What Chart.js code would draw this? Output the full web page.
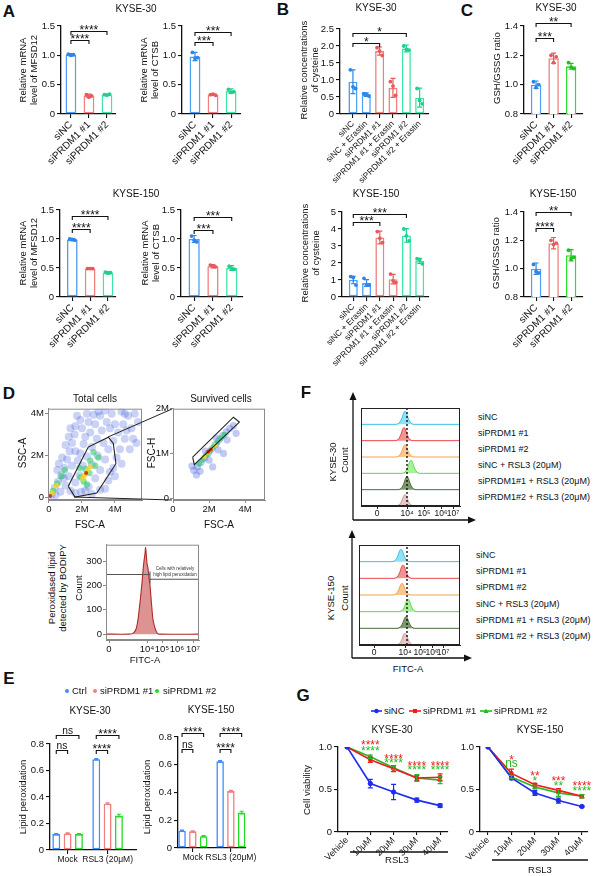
<!DOCTYPE html>
<html>
<head>
<meta charset="utf-8">
<script src="https://cdn.jsdelivr.net/npm/chart.js@4.4.1/dist/chart.umd.min.js"></script>
<style>
  body { margin: 0; background: #fff; }
  #fig { position: relative; width: 600px; height: 876px; overflow: hidden; background: #fff; font-family: 'Liberation Sans', Arial, sans-serif; color: #111; }
  .t { position: absolute; white-space: nowrap; line-height: 1.15; text-align: center; }
  canvas { position: absolute; }
  svg { position: absolute; left: 0; top: 0; }
</style>
</head>
<body>
<div id="fig"></div>
<script>
// ---------------- data ----------------
// A: relative mRNA
const siGroups = ['siNC', 'siPRDM1 #1', 'siPRDM1 #2'];
const mfsd12K30 = [1.01, 0.31, 0.33];
const mfsd12K30Sd = [0.02, 0.03, 0.01];
const mfsd12K30Pts = [[1.02, 1.0, 1.01], [0.33, 0.29, 0.31], [0.33, 0.32, 0.34]];
const ctsbK30 = [0.98, 0.33, 0.39];
const ctsbK30Sd = [0.07, 0.01, 0.04];
const ctsbK30Pts = [[1.05, 0.95, 0.96], [0.33, 0.34, 0.32], [0.42, 0.37, 0.38]];
const mfsd12K150 = [0.99, 0.49, 0.42];
const mfsd12K150Sd = [0.02, 0.01, 0.02];
const mfsd12K150Pts = [[1.0, 0.99, 0.98], [0.49, 0.49, 0.49], [0.43, 0.41, 0.42]];
const ctsbK150 = [1.0, 0.53, 0.5];
const ctsbK150Sd = [0.06, 0.03, 0.04];
const ctsbK150Pts = [[1.05, 0.98, 0.95], [0.55, 0.53, 0.52], [0.53, 0.49, 0.48]];
// brackets: [group a, group b, y, label]
const sigMfsd12K30 = [[0, 1, 1.26, '****'], [0, 2, 1.41, '****']];
const sigCtsbK30 = [[0, 1, 1.23, '***'], [0, 2, 1.40, '***']];
const sigMfsd12K150 = [[0, 1, 1.17, '****'], [0, 2, 1.40, '****']];
const sigCtsbK150 = [[0, 1, 1.16, '***'], [0, 2, 1.38, '***']];

// B: cysteine
const cysGroups = ['siNC', 'siNC + Erastin', 'siPRDM1 #1', 'siPRDM1 #1 + Erastin', 'siPRDM1 #2', 'siPRDM1 #2 + Erastin'];
const cysK30 = [0.95, 0.57, 1.85, 0.77, 1.93, 0.48];
const cysK30Sd = [0.35, 0.05, 0.12, 0.28, 0.1, 0.28];
const cysK30Pts = [[1.3, 0.8, 0.75], [0.6, 0.58, 0.53], [1.95, 1.85, 1.72], [0.95, 0.82, 0.55], [2.0, 1.9, 1.88], [0.75, 0.4, 0.3]];
const cysK150 = [1.0, 0.82, 3.5, 1.05, 3.62, 2.13];
const cysK150Sd = [0.22, 0.2, 0.38, 0.28, 0.4, 0.15];
const cysK150Pts = [[1.2, 1.15, 0.7], [1.1, 0.7, 0.7], [3.85, 3.45, 3.2], [1.35, 0.95, 0.85], [4.0, 3.6, 3.3], [2.25, 2.2, 1.95]];
const sigCysK30 = [[0, 2, 2.09, '*'], [0, 4, 2.38, '*']];
const sigCysK150 = [[0, 2, 4.41, '***'], [0, 4, 4.88, '***']];

// C: GSH/GSSG
const gshK30 = [1.0, 1.18, 1.125];
const gshK30Sd = [0.025, 0.035, 0.02];
const gshK30Pts = [[1.02, 0.98, 1.0], [1.2, 1.15, 1.19], [1.15, 1.12, 1.11]];
const gshK150 = [1.0, 1.18, 1.095];
const gshK150Sd = [0.04, 0.04, 0.04];
const gshK150Pts = [[1.03, 0.98, 0.97], [1.2, 1.17, 1.18], [1.13, 1.07, 1.08]];
const sigGshK30 = [[0, 1, 1.32, '***'], [0, 2, 1.42, '**']];
const sigGshK150 = [[0, 1, 1.29, '****'], [0, 2, 1.40, '**']];

// D: flow gating (values in millions)
const totalBlue = [[0.15,0.1],[0.35,0.45],[0.55,0.75],[0.75,1.05],[0.95,1.4],[1.1,1.8],[1.25,2.2],[1.4,2.6],[1.55,3.0],[1.6,3.4],[1.9,3.7],[2.3,4.0],[0.7,0.25],[1.0,0.55],[1.3,0.3],[1.2,1.0],[0.8,1.9],[1.6,0.7],[1.85,1.05],[2.05,1.5],[2.3,1.95],[2.6,2.4],[2.9,2.8],[3.2,3.2],[3.5,3.6],[3.8,4.0],[1.75,1.75],[2.1,2.55],[2.5,3.1],[2.8,3.5],[3.1,3.9],[2.4,0.5],[2.8,0.9],[3.1,1.3],[3.4,1.8],[3.6,2.3],[3.9,2.7],[4.2,3.1],[4.5,3.5],[4.8,3.9],[4.3,2.3],[4.6,2.8],[5.0,3.3],[5.2,4.0],[3.1,0.35],[3.6,0.8],[3.9,1.4],[4.1,1.9],[1.95,0.25],[2.6,1.55],[2.95,2.0],[4.4,4.1],[3.4,4.15],[2.7,3.95],[5.3,2.6],
  [0.5,1.3],[0.6,1.6],[1.0,2.5],[1.2,2.9],[1.3,3.3],[1.7,3.9],[2.0,3.3],[2.4,3.6],[3.0,4.1],[3.7,3.3],[4.0,3.5],[4.7,3.2],[5.1,2.8],[4.9,2.3],[4.4,1.6],[4.0,1.0],[3.4,0.4],[2.6,0.15],[2.2,0.3],[1.6,0.2],[0.4,0.1],[1.4,1.5],[1.6,2.2],[1.9,2.1],[2.2,2.9],[3.3,2.6],[3.7,1.2],[4.6,4.0],[5.4,3.6],[0.9,0.9]];
const totalGreen = [[0.25,0.3],[0.5,0.65],[0.75,1.0],[0.95,1.3],[1.9,0.95],[2.2,1.35],[2.5,1.75],[2.1,0.75],[2.45,1.15],[2.8,1.5],[1.85,1.4],[2.7,2.15],[2.3,0.6],[3.0,1.9]];
const totalYellow = [[0.2,0.2],[0.45,0.55],[2.15,1.05],[2.35,1.3],[2.05,0.9],[2.5,1.45]];
const totalRed = [[0.07,0.05],[2.25,1.15]];
const totalGate = [[1.17,0.52],[2.38,2.4],[3.6,2.87],[3.9,2.57],[4.06,1.6],[2.9,0.19],[1.58,0.0],[1.17,0.52]];
const survBlue = [[1.15,0.62],[1.35,0.7],[1.55,0.8],[1.75,0.9],[1.95,1.0],[2.15,1.1],[2.35,1.2],[2.55,1.3],[2.75,1.4],[2.95,1.48],[3.15,1.56],[3.35,1.62],[1.5,0.6],[2.0,0.85],[2.5,1.08],[3.0,1.3],[1.3,0.52],[2.8,1.0],[3.5,1.45],[1.05,0.72],[2.2,0.7],[1.8,1.05],[2.4,1.35]];
const survGreen = [[1.45,0.77],[1.65,0.86],[1.85,0.96],[2.05,1.05],[2.25,1.15],[2.45,1.24],[2.65,1.34],[2.85,1.42]];
const survYellow = [[1.75,0.93],[1.95,1.02],[2.15,1.1],[2.35,1.18]];
const survRed = [[1.95,1.04],[2.1,1.09]];
const survGate = [[1.09,0.92],[3.35,1.81],[3.68,1.7],[1.18,0.75],[1.09,0.92]];
// BODIPY histogram: [FITC position, count]
const bodipyHist = [[-3,0],[20,0],[24,3],[27,20],[29,60],[31,130],[33,210],[34,260],[35,300],[36,330],[36.5,355],[37,340],[38,290],[39,270],[40,230],[41,200],[42,150],[43,100],[44,60],[46,25],[48,6],[50,0],[90,0]];
const bodipyGateLo = [[-3,245],[41,245]];
const bodipyGateHi = [[41,225],[90,225]];
const bodipyGateTick = [[41,208],[41,257]];
const fitcLabels = ['0', '10⁴', '10⁵', '10⁶', '10⁷'];
const fitcHistTicks = [0, 38, 53, 68, 84];

// E: lipid peroxidation
const lipidCats = ['Mock', 'RSL3 (20μM)'];
const lipidSeries = ['Ctrl', 'siPRDM1 #1', 'siPRDM1 #2'];
const lipidK30 = [[0.12, 0.685], [0.125, 0.35], [0.12, 0.26]];
const lipidK150 = [[0.125, 0.625], [0.12, 0.41], [0.085, 0.255]];
const lipidSd = [[0.004, 0.005], [0.004, 0.005], [0.004, 0.01]];
// [group, series a, series b, y, label]
const sigLipidK30 = [[0, 0, 1, 0.755, 'ns'], [0, 0, 2, 0.87, 'ns'], [1, 0, 1, 0.755, '****'], [1, 0, 2, 0.87, '****']];
const sigLipidK150 = [[0, 0, 1, 0.71, 'ns'], [0, 0, 2, 0.83, '****'], [1, 0, 1, 0.71, '****'], [1, 0, 2, 0.83, '****']];

// F: BODIPY histograms per condition
const rowsK30 = ['siNC', 'siPRDM1 #1', 'siPRDM1 #2', 'siNC + RSL3 (20μM)', 'siPRDM1#1 + RSL3 (20μM)', 'siPRDM1#2 + RSL3 (20μM)'];
const rowsK150 = ['siNC', 'siPRDM1 #1', 'siPRDM1 #2', 'siNC + RSL3 (20μM)', 'siPRDM1 #1 + RSL3 (20μM)', 'siPRDM1 #2 + RSL3 (20μM)'];
const peakPosK30 = [28, 27, 28, 34, 30, 28];
const peakAmpK30 = [0.8, 0.8, 0.75, 0.8, 0.8, 0.7];
const peakPosK150 = [27, 29, 28, 34, 32, 31];
const peakAmpK150 = [0.75, 0.8, 0.7, 0.75, 0.7, 0.7];
const peakDx = [-9, -7, -5, -3, -1.5, 0, 1.5, 3, 5, 7, 9];
const peakShape = [0, 0.04, 0.18, 0.5, 0.85, 1, 0.85, 0.5, 0.18, 0.04, 0];
const fitcTicksK30 = [0, 30, 47, 64, 76];
const fitcTicksK150 = [0, 31, 46, 58, 69];
const refLineK30 = 30, refLineK150 = 33;

// G: cell viability
const doses = ['Vehicle', '10μM', '20μM', '30μM', '40μM'];
const viabK30 = { siNC: [1.0, 0.57, 0.47, 0.375, 0.31], si1: [1.0, 0.85, 0.745, 0.635, 0.645], si2: [1.0, 0.885, 0.755, 0.635, 0.61] };
const viabK30Sd = { siNC: [0, 0.05, 0.09, 0.025, 0.02], si1: [0, 0.03, 0.035, 0.03, 0.04], si2: [0, 0.02, 0.02, 0.04, 0.04] };
const viabK150 = { siNC: [1.0, 0.635, 0.46, 0.37, 0.3], si1: [1.0, 0.69, 0.557, 0.49, 0.42], si2: [1.0, 0.647, 0.53, 0.46, 0.42] };
const viabK150Sd = { siNC: [0, 0.02, 0.03, 0.03, 0.01], si1: [0, 0.05, 0.015, 0.02, 0.02], si2: [0, 0.02, 0.02, 0.04, 0.02] };
const starsK30Red = ['****', '****', '****', '****'], starsK30RedY = [1.06, 0.89, 0.81, 0.81];
const starsK30Green = ['****', '****', '****', '****'], starsK30GreenY = [0.99, 0.84, 0.765, 0.765];
const starsK150Red = ['*', '**', '***', '****'], starsK150RedY = [0.875, 0.69, 0.635, 0.57];
const starsK150Green = ['ns', '*', '**', '****'], starsK150GreenY = [0.8, 0.635, 0.58, 0.52];

// ---------------- style ----------------
const FONT = "'Liberation Sans', Arial, sans-serif";
const BLUE = '#4d9ef5', RED = '#f27f7f', TEAL = '#3ee6a6', GREEN = '#2ddf2d';
const BLUE_D = '#2e86e8', RED_D = '#e8595b', TEAL_D = '#22cf8c', GREEN_D = '#1cc41c';
const JIT = [-2.6, 0, 2.6];
const fig = document.getElementById('fig');

function t(x, y, html, o = {}) {
  const d = document.createElement('div');
  d.className = 't';
  d.innerHTML = html;
  const left = o.a === 'l';
  d.style.cssText = `left:${x}px;top:${y}px;font-size:${o.s || 10}px;` +
    (o.b ? 'font-weight:bold;' : '') + (o.c ? `color:${o.c};` : '') +
    (left ? 'text-align:left;' : '') +
    `transform:translate(${left ? '0' : '-50%'},-50%) rotate(${o.r || 0}deg);`;
  fig.appendChild(d);
}

function drawMark(ctx, s, x, y, color, size) {
  ctx.fillStyle = color;
  ctx.textAlign = 'center';
  ctx.textBaseline = 'alphabetic';
  if (s.includes('*')) { ctx.font = `${size}px ${FONT}`; ctx.fillText(s, x, y + size * 0.57); }
  else { ctx.font = `${size * 0.85}px ${FONT}`; ctx.fillText(s, x, y + size * 0.85 * 0.26); }
}

function decor(o) {
  return {
    id: 'decor',
    afterDatasetsDraw(chart) {
      const ctx = chart.ctx, xs = chart.scales.x, ys = chart.scales.y, a = chart.chartArea;
      ctx.save();
      if (o.frame) {
        ctx.strokeStyle = o.frame; ctx.lineWidth = 1;
        ctx.strokeRect(a.left + 0.5, a.top + 0.5, a.right - a.left - 1, a.bottom - a.top - 1);
      }
      (o.err || []).forEach(e => {
        const els = chart.getDatasetMeta(e.ds).data;
        e.sd.forEach((s, i) => {
          if (!s) return;
          const x = els[i].x, y1 = ys.getPixelForValue(e.mean[i] + s), y2 = ys.getPixelForValue(e.mean[i] - s);
          ctx.strokeStyle = Array.isArray(e.color) ? e.color[i] : e.color;
          ctx.lineWidth = e.lw || 1.2;
          ctx.beginPath();
          ctx.moveTo(x, y1); ctx.lineTo(x, y2);
          ctx.moveTo(x - e.cap, y1); ctx.lineTo(x + e.cap, y1);
          ctx.moveTo(x - e.cap, y2); ctx.lineTo(x + e.cap, y2);
          ctx.stroke();
        });
      });
      (o.pts || []).forEach(p => {
        const els = chart.getDatasetMeta(p.ds).data;
        p.vals.forEach((vs, i) => vs.forEach((v, k) => {
          ctx.fillStyle = p.color[i];
          ctx.beginPath();
          ctx.arc(els[i].x + JIT[k], ys.getPixelForValue(v), 1.9, 0, Math.PI * 2);
          ctx.fill();
        }));
      });
      (o.sig || []).forEach(b => {
        const x1 = chart.getDatasetMeta(b.d1).data[b.i1].x;
        const x2 = chart.getDatasetMeta(b.d2).data[b.i2].x;
        const y = Math.round(ys.getPixelForValue(b.y)) + 0.5;
        ctx.strokeStyle = '#111'; ctx.lineWidth = 1.1;
        ctx.beginPath();
        ctx.moveTo(x1, y + 3.5); ctx.lineTo(x1, y); ctx.lineTo(x2, y); ctx.lineTo(x2, y + 3.5);
        ctx.stroke();
        drawMark(ctx, b.text, (x1 + x2) / 2, y - 4, '#111', 12);
      });
      (o.marks || []).forEach(m => drawMark(ctx, m.text, xs.getPixelForValue(m.x), ys.getPixelForValue(m.y), m.color, m.size || 12));
      (o.notes || []).forEach(n => {
        ctx.fillStyle = '#333'; ctx.font = `${n.size}px ${FONT}`;
        ctx.textAlign = 'center'; ctx.textBaseline = 'middle';
        ctx.fillText(n.text, xs.getPixelForValue(n.x), ys.getPixelForValue(n.y));
      });
      ctx.restore();
    }
  };
}

// canvas placed so the chart area lands on box L/T/R/B
function place(box, config, deco) {
  const yW = box.yW ?? 30, pt = box.pt ?? 24, pr = box.pr ?? 8, xH = box.xH ?? 30;
  const w = box.R - box.L + yW + pr, h = box.B - box.T + pt + xH;
  const cv = document.createElement('canvas');
  cv.width = w; cv.height = h;
  cv.style.left = (box.L - yW) + 'px';
  cv.style.top = (box.T - pt) + 'px';
  fig.appendChild(cv);
  const sc = config.options.scales;
  const yShown = sc.y.display !== false;
  config.options.layout = { padding: { left: yShown ? 0 : yW, top: pt, right: pr, bottom: 0 } };
  if (yShown) sc.y.afterFit = s => { s.width = yW; };
  sc.x.afterFit = s => { s.height = xH; };
  Object.assign(config.options, { responsive: false, animation: false, devicePixelRatio: 1 });
  config.options.plugins = { legend: { display: false }, tooltip: { enabled: false } };
  config.plugins = [decor(deco || {})];
  return new Chart(cv, config);
}

const f1 = v => (v === 0 ? '0' : v.toFixed(1));
const fInt = v => String(Math.round(v));

function yLin(min, max, step, fmt, col = '#111') {
  return {
    min, max, bounds: 'data',
    ticks: { stepSize: step, color: '#111', font: { family: FONT, size: 9.5 }, padding: 2, callback: fmt },
    grid: { drawOnChartArea: false, color: col, tickLength: 4, lineWidth: 1.1 },
    border: { color: col, width: 1.3 }
  };
}

function fixedAxis(min, max, vals, labels, col, extra = {}) {
  return Object.assign({
    type: 'linear', min, max, bounds: 'data', offset: false,
    afterBuildTicks: s => { s.ticks = vals.map(v => ({ value: v })); },
    ticks: { autoSkip: false, maxRotation: 0, minRotation: 0, color: '#111', font: { family: FONT, size: 9.5 }, padding: 1,
      callback: v => labels[vals.indexOf(v)] ?? '' },
    grid: { drawOnChartArea: false, offset: false, color: col, tickLength: 3, lineWidth: 1 },
    border: { color: col, width: 1 }
  }, extra);
}

function xCat(names, min, max, rot, size) {
  return {
    type: 'linear', min, max, bounds: 'data', offset: false,
    afterBuildTicks: s => { s.ticks = names.map((n, i) => ({ value: i + 1 })); },
    ticks: { autoSkip: false, minRotation: rot, maxRotation: rot, color: '#111', font: { family: FONT, size }, padding: 1,
      callback: v => names[v - 1] },
    grid: { drawOnChartArea: false, offset: false, color: '#111', tickLength: 4, lineWidth: 1.1 },
    border: { color: '#111', width: 1.3 }
  };
}

function barPanel(box, o) {
  return place(box, {
    type: 'bar',
    data: { datasets: [{
      data: o.vals.map((v, i) => ({ x: i + 1, y: v })),
      backgroundColor: '#fff', borderColor: o.colors, borderWidth: 1.6, borderSkipped: false,
      barPercentage: o.pct, categoryPercentage: 1
    }] },
    options: { scales: { x: xCat(o.names, o.xr[0], o.xr[1], 45, o.font), y: yLin(o.yr[0], o.yr[1], o.yr[2], o.fmt || f1) } }
  }, {
    err: [{ ds: 0, mean: o.vals, sd: o.sd, color: o.dots, cap: 2.5 }],
    pts: [{ ds: 0, vals: o.pts, color: o.dots }],
    sig: o.sig.map(([i, j, y, s]) => ({ d1: 0, i1: i, d2: 0, i2: j, y, text: s }))
  });
}

// ---------------- panel A ----------------
const colA = [BLUE, RED, TEAL], dotA = [BLUE_D, RED_D, TEAL_D];
barPanel({ L: 61, R: 116, T: 26, B: 114, xH: 55 }, { names: siGroups, vals: mfsd12K30, sd: mfsd12K30Sd, pts: mfsd12K30Pts, sig: sigMfsd12K30, colors: colA, dots: dotA, xr: [0.45, 3.5], yr: [0, 1.5, 0.5], pct: 0.6, font: 10 });
barPanel({ L: 182, R: 241, T: 26, B: 114, xH: 55 }, { names: siGroups, vals: ctsbK30, sd: ctsbK30Sd, pts: ctsbK30Pts, sig: sigCtsbK30, colors: colA, dots: dotA, xr: [0.28, 3.55], yr: [0, 1.5, 0.5], pct: 0.6, font: 10 });
barPanel({ L: 60, R: 116, T: 210, B: 297, xH: 55 }, { names: siGroups, vals: mfsd12K150, sd: mfsd12K150Sd, pts: mfsd12K150Pts, sig: sigMfsd12K150, colors: colA, dots: dotA, xr: [0.31, 3.45], yr: [0, 1.5, 0.5], pct: 0.6, font: 10 });
barPanel({ L: 181, R: 243, T: 210, B: 297, xH: 55 }, { names: siGroups, vals: ctsbK150, sd: ctsbK150Sd, pts: ctsbK150Pts, sig: sigCtsbK150, colors: colA, dots: dotA, xr: [0.3, 3.6], yr: [0, 1.5, 0.5], pct: 0.6, font: 10 });

// ---------------- panel B ----------------
const colB = [BLUE, BLUE, RED, RED, TEAL, TEAL], dotB = [BLUE_D, BLUE_D, RED_D, RED_D, TEAL_D, TEAL_D];
barPanel({ L: 340, R: 429, T: 29, B: 114, xH: 75 }, { names: cysGroups, vals: cysK30, sd: cysK30Sd, pts: cysK30Pts, sig: sigCysK30, colors: colB, dots: dotB, xr: [0.03, 6.7], yr: [0, 2.5, 0.5], pct: 0.68, font: 8.5 });
barPanel({ L: 342, R: 429, T: 212, B: 297, xH: 75 }, { names: cysGroups, vals: cysK150, sd: cysK150Sd, pts: cysK150Pts, sig: sigCysK150, colors: colB, dots: dotB, xr: [0.15, 6.7], yr: [0, 5, 1], pct: 0.68, font: 8.5, fmt: fInt });

// ---------------- panel C ----------------
const colC = [BLUE, RED, GREEN], dotC = [BLUE_D, RED_D, GREEN_D];
barPanel({ L: 524, R: 583, T: 26, B: 114, xH: 55 }, { names: siGroups, vals: gshK30, sd: gshK30Sd, pts: gshK30Pts, sig: sigGshK30, colors: colC, dots: dotC, xr: [0.31, 3.68], yr: [0.8, 1.4, 0.2], pct: 0.6, font: 10 });
barPanel({ L: 524, R: 583, T: 212, B: 297, xH: 55 }, { names: siGroups, vals: gshK150, sd: gshK150Sd, pts: gshK150Pts, sig: sigGshK150, colors: colC, dots: dotC, xr: [0.31, 3.68], yr: [0.8, 1.4, 0.2], pct: 0.6, font: 10 });

// ---------------- panel D ----------------
function cloud(pts, color, r) {
  return { data: pts.map(([x, y]) => ({ x, y })), backgroundColor: color, pointRadius: r, pointBorderWidth: 0 };
}
function gate(pts, color) {
  return { data: pts.map(([x, y]) => ({ x, y })), showLine: true, borderColor: color, borderWidth: 1.1, pointRadius: 0, fill: false };
}
const FR = '#8a8a8a';
place({ L: 48, R: 142, T: 408, B: 500, pt: 6, xH: 16, yW: 26 }, {
  type: 'scatter',
  data: { datasets: [
    gate(totalGate, '#222'),
    cloud(totalRed, 'rgba(225,40,20,0.95)', 2),
    cloud(totalYellow, 'rgba(240,215,40,0.85)', 2.6),
    cloud(totalGreen, 'rgba(50,205,110,0.6)', 3.2),
    cloud(totalBlue, 'rgba(35,65,215,0.24)', 4)
  ] },
  options: { scales: {
    x: fixedAxis(-0.06, 5.64, [0, 2, 4], ['0', '2M', '4M'], FR),
    y: fixedAxis(-0.14, 4.24, [0, 2, 4], ['0', '2M', '4M'], FR)
  } }
}, { frame: FR });
place({ L: 173, R: 265, T: 408, B: 500, pt: 6, xH: 16, yW: 26 }, {
  type: 'scatter',
  data: { datasets: [
    gate(survGate, '#222'),
    cloud(survRed, 'rgba(225,40,20,0.95)', 2),
    cloud(survYellow, 'rgba(240,215,40,0.85)', 2.4),
    cloud(survGreen, 'rgba(50,205,110,0.65)', 3),
    cloud(survBlue, 'rgba(35,65,215,0.28)', 3.6)
  ] },
  options: { scales: {
    x: fixedAxis(0, 5.1, [0, 2, 4], ['0', '2M', '4M'], FR),
    y: fixedAxis(-0.04, 2.0, [0, 1, 2], ['0', '1M', '2M'], FR)
  } }
}, { frame: FR });
place({ L: 106, R: 199, T: 544, B: 640, pt: 6, xH: 14, yW: 26 }, {
  type: 'line',
  data: { datasets: [
    gate(bodipyGateLo, '#555'),
    gate(bodipyGateHi, '#555'),
    gate(bodipyGateTick, '#555'),
    { data: bodipyHist.map(([x, y]) => ({ x, y })), borderColor: '#b02828', backgroundColor: 'rgba(214,120,120,0.8)', borderWidth: 1.1, pointRadius: 0, fill: 'origin', tension: 0.2 }
  ] },
  options: { scales: {
    x: fixedAxis(-3, 90, fitcHistTicks, fitcLabels, FR),
    y: fixedAxis(-24, 367, [0, 100, 200, 300], ['0', '100', '200', '300'], FR)
  } }
}, { frame: FR, notes: [{ x: 66, y: 268, text: 'Cells with relatively', size: 4.5 }, { x: 66, y: 244, text: 'high lipid peroxidation', size: 4.5 }] });

// ---------------- panel E ----------------
const colE = ['#3f8cff', RED, '#22dd22'];
function lipidPanel(box, vals, sig, xr) {
  return place(box, {
    type: 'bar',
    data: { datasets: vals.map((v, d) => ({
      data: v.map((y, g) => ({ x: g + 1, y })),
      backgroundColor: '#fff', borderColor: colE[d], borderWidth: 1.6, borderSkipped: false,
      barPercentage: 0.7, categoryPercentage: 0.85
    })) },
    options: { scales: { x: xCat(lipidCats, xr[0], xr[1], 0, 8.5), y: yLin(0, 0.8, 0.2, f1) } }
  }, {
    err: vals.map((v, d) => ({ ds: d, mean: v, sd: lipidSd[d], color: colE[d], cap: 2 })),
    sig: sig.map(([g, a, b, y, s]) => ({ d1: a, i1: g, d2: b, i2: g, y, text: s }))
  });
}
lipidPanel({ L: 50, R: 137, T: 744, B: 850, pt: 28, xH: 20 }, lipidK30, sigLipidK30, [0.56, 2.735]);
lipidPanel({ L: 178, R: 251, T: 737, B: 848, pt: 24, xH: 20 }, lipidK150, sigLipidK150, [0.61, 2.39]);

// ---------------- panel F ----------------
const fLine = ['#35c3ea', '#e8474b', '#f0a24a', '#5ad84a', '#4d6b3a', '#c99a9a'];
const fFill = ['rgba(120,215,240,0.8)', 'rgba(240,120,120,0.8)', 'rgba(245,185,115,0.8)', 'rgba(150,235,130,0.8)', 'rgba(105,135,85,0.85)', 'rgba(228,185,185,0.8)'];
function flowPanel(box, pos, amp, ticks, ref, xr) {
  const rows = pos.map((c, i) => {
    const base = 5 - i;
    const data = [{ x: xr[0], y: base }]
      .concat(peakDx.map((d, k) => ({ x: c + d, y: base + amp[i] * peakShape[k] })))
      .concat([{ x: xr[1], y: base }]);
    return { data, borderColor: fLine[i], backgroundColor: fFill[i], borderWidth: 1, pointRadius: 0, fill: { value: base }, cubicInterpolationMode: 'monotone' };
  });
  return place(box, {
    type: 'line',
    data: { datasets: [{ data: [{ x: ref, y: 0 }, { x: ref, y: 6 }], borderColor: '#111', borderDash: [2, 2], borderWidth: 1.4, pointRadius: 0 }].concat(rows) },
    options: { scales: {
      x: fixedAxis(xr[0], xr[1], ticks, fitcLabels, '#222', { ticks: { autoSkip: false, maxRotation: 0, minRotation: 0, color: '#111', font: { family: FONT, size: 8.5 }, padding: 0, callback: v => fitcLabels[ticks.indexOf(v)] ?? '' } }),
      y: { display: false, min: 0, max: 6 }
    } }
  }, { frame: '#222' });
}
flowPanel({ L: 361, R: 460, T: 408, B: 506, pt: 4, xH: 14, yW: 4 }, peakPosK30, peakAmpK30, fitcTicksK30, refLineK30, [-16, 83]);
flowPanel({ L: 359, R: 460, T: 545, B: 645, pt: 4, xH: 14, yW: 4 }, peakPosK150, peakAmpK150, fitcTicksK150, refLineK150, [-15, 86]);

// ---------------- panel G ----------------
const gBlue = '#1f2cf0', gRed = '#ee1c1c', gGreen = '#26b826';
function viabPanel(box, v, sd, xr, red, redY, green, greenY) {
  const mk = (vals, color, style) => ({
    data: vals.map((y, i) => ({ x: i, y })), borderColor: color, backgroundColor: color,
    borderWidth: 1.6, pointStyle: style, pointRadius: 2.2, pointBorderWidth: 1, tension: 0
  });
  return place(box, {
    type: 'line',
    data: { datasets: [mk(v.siNC, gBlue, 'circle'), mk(v.si1, gRed, 'rect'), mk(v.si2, gGreen, 'triangle')] },
    options: { scales: {
      x: fixedAxis(xr[0], xr[1], [0, 1, 2, 3, 4], doses, '#111', {
        ticks: { autoSkip: false, minRotation: 45, maxRotation: 45, color: '#111', font: { family: FONT, size: 9 }, padding: 0, callback: v => doses[v] },
        grid: { drawOnChartArea: false, offset: false, color: '#111', tickLength: 3, lineWidth: 1.1 },
        border: { color: '#111', width: 1.3 }
      }),
      y: yLin(0, 1, 0.5, f1)
    } }
  }, {
    err: [
      { ds: 0, mean: v.siNC, sd: sd.siNC, color: gBlue, cap: 2.5 },
      { ds: 1, mean: v.si1, sd: sd.si1, color: gRed, cap: 2.5 },
      { ds: 2, mean: v.si2, sd: sd.si2, color: gGreen, cap: 2.5 }
    ],
    marks: red.map((s, i) => ({ x: i + 1, y: redY[i], text: s, color: gRed }))
      .concat(green.map((s, i) => ({ x: i + 1, y: greenY[i], text: s, color: gGreen, size: s === 'ns' ? 14 : 12 })))
  });
}
viabPanel({ L: 338, R: 448, T: 747, B: 832, pt: 20, xH: 40 }, viabK30, viabK30Sd, [-0.39, 4.34], starsK30Red, starsK30RedY, starsK30Green, starsK30GreenY);
viabPanel({ L: 480, R: 588, T: 747, B: 832, pt: 20, xH: 40 }, viabK150, viabK150Sd, [-0.34, 4.26], starsK150Red, starsK150RedY, starsK150Green, starsK150GreenY);

// ---------------- text ----------------
[['A', 9, 12], ['B', 283, 10], ['C', 467, 11], ['D', 9, 394], ['E', 9, 679], ['F', 306, 393], ['G', 303, 696]]
  .forEach(([s, x, y]) => t(x, y, s, { s: 17, b: true }));

t(136, 9, 'KYSE-30'); t(136, 194, 'KYSE-150');
t(29, 70, 'Relative mRNA<br>level of MFSD12', { r: -90, s: 9.5 });
t(150, 70, 'Relative mRNA<br>level of CTSB', { r: -90, s: 9.5 });
t(29, 253, 'Relative mRNA<br>level of MFSD12', { r: -90, s: 9.5 });
t(151, 253, 'Relative mRNA<br>level of CTSB', { r: -90, s: 9.5 });

t(376, 8, 'KYSE-30'); t(376, 194, 'KYSE-150');
t(310, 70, 'Relative concentrations<br>of cysteine', { r: -90, s: 9.5 });
t(311, 253, 'Relative concentrations<br>of cysteine', { r: -90, s: 9.5 });

t(556, 8, 'KYSE-30'); t(553, 194, 'KYSE-150');
t(497, 68, 'GSH/GSSG ratio', { r: -90, s: 9.5 });
t(496, 253, 'GSH/GSSG ratio', { r: -90, s: 9.5 });

t(95, 399, 'Total cells'); t(221, 399, 'Survived cells');
t(23, 453, 'SSC-A', { r: -90 }); t(152, 453, 'FSC-H', { r: -90 });
t(90, 525, 'FSC-A'); t(219, 525, 'FSC-A');
t(58, 588, 'Peroxidased lipid<br>detected by BODIPY', { r: -90, s: 9.5 });
t(79, 588, 'Count', { r: -90, s: 9.5 });
t(145, 660, 'FITC-A', { s: 9.5 });

t(72, 691, 'Ctrl', { a: 'l', s: 9.5 }); t(100, 691, 'siPRDM1 #1', { a: 'l', s: 9.5 }); t(163, 691, 'siPRDM1 #2', { a: 'l', s: 9.5 });
t(90, 711, 'KYSE-30'); t(211, 710, 'KYSE-150');
t(23, 797, 'Lipid peroxidation', { r: -90, s: 9.5 });
t(147, 797, 'Lipid peroxidation', { r: -90, s: 9.5 });

t(333, 462, 'KYSE-30', { r: -90, s: 9.5 }); t(345, 460, 'Count', { r: -90, s: 9.5 });
t(331, 598, 'KYSE-150', { r: -90, s: 9.5 }); t(345, 598, 'Count', { r: -90, s: 9.5 });
const rowY30 = [417, 433, 449, 465, 481, 497], rowY150 = [555, 571, 587, 604, 620, 636];
rowsK30.forEach((s, i) => t(478, rowY30[i], s, { a: 'l', s: 9 }));
rowsK150.forEach((s, i) => t(476, rowY150[i], s, { a: 'l', s: 9 }));
t(408, 669, 'FITC-A', { s: 9.5 });

t(384, 711, 'siNC', { a: 'l', s: 9.5 }); t(423, 711, 'siPRDM1 #1', { a: 'l', s: 9.5 }); t(494, 711, 'siPRDM1 #2', { a: 'l', s: 9.5 });
t(392, 730, 'KYSE-30'); t(540, 730, 'KYSE-150');
t(307, 790, 'Cell viability', { r: -90, s: 9.5 });
t(397, 860, 'RSL3', { s: 9.5 }); t(540, 870, 'RSL3', { s: 9.5 });

// ---------------- overlay lines ----------------
fig.insertAdjacentHTML('beforeend', `
<svg width="600" height="876" viewBox="0 0 600 876">
  <g stroke="#222" stroke-width="1" fill="none">
    <line x1="108" y1="437" x2="172" y2="409"/>
    <line x1="74" y1="497" x2="172" y2="500"/>
  </g>
  <g stroke="#111" stroke-width="1.3" fill="none">
    <line x1="353" y1="520" x2="353" y2="398"/>
    <line x1="353" y1="520" x2="470" y2="520"/>
    <line x1="352" y1="658" x2="352" y2="536"/>
    <line x1="352" y1="658" x2="466" y2="658"/>
    <line x1="350" y1="852" x2="448" y2="852"/>
    <line x1="492" y1="860" x2="588" y2="860"/>
  </g>
  <g fill="#111">
    <polygon points="353,392 349.5,400 356.5,400"/>
    <polygon points="476,520 468,516.5 468,523.5"/>
    <polygon points="352,530 348.5,538 355.5,538"/>
    <polygon points="472,658 464,654.5 464,661.5"/>
  </g>
  <circle cx="67" cy="691" r="2" fill="#3f8cff"/>
  <circle cx="95" cy="691" r="2" fill="${RED}"/>
  <circle cx="157" cy="691" r="2" fill="#22dd22"/>
  <line x1="371" y1="711" x2="382" y2="711" stroke="${gBlue}" stroke-width="1.6"/>
  <circle cx="376.5" cy="711" r="2.2" fill="${gBlue}"/>
  <line x1="409" y1="711" x2="421" y2="711" stroke="${gRed}" stroke-width="1.6"/>
  <rect x="413" y="709" width="4" height="4" fill="${gRed}"/>
  <line x1="480" y1="711" x2="492" y2="711" stroke="${gGreen}" stroke-width="1.6"/>
  <polygon points="486,708.5 483.5,713 488.5,713" fill="${gGreen}"/>
</svg>`);
</script>
</body>
</html>
